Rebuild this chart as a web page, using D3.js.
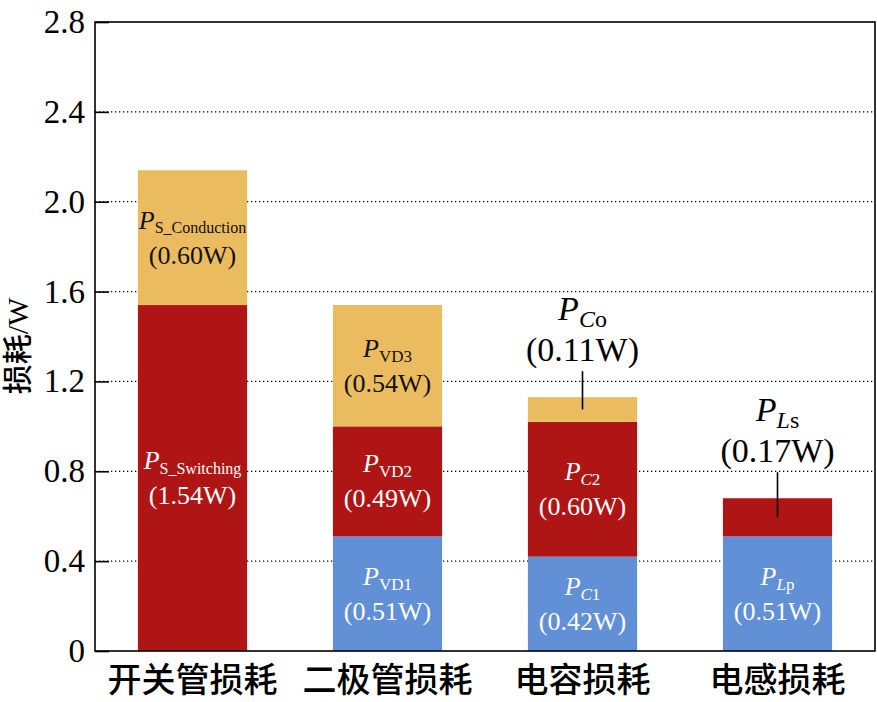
<!DOCTYPE html>
<html>
<head>
<meta charset="utf-8">
<title>损耗分布</title>
<script type="text/javascript" src="https://d3js.org/d3.v7.js"></script>
<style>
    * { margin: 0; padding: 0; }
    body { background: #fff; }
    #chart-container { width: 877px; height: 702px; }
    .serif { font-family: "Liberation Serif", "Times New Roman", "DejaVu Serif", serif; }
</style>
</head>
<body>
    <div id="chart-container"></div>

    <script type="text/javascript">
        // categories and stacked series (W)
        const categories = ["开关管损耗", "二极管损耗", "电容损耗", "电感损耗"];
        const blueLoss   = [0,    0.51, 0.42, 0.51];
        const redLoss    = [1.54, 0.49, 0.60, 0.17];
        const orangeLoss = [0.60, 0.54, 0.11, 0];

        // subscripts of P for each segment: [text, italic]
        const blueSub   = [null, [["VD1", 0]], [["C", 1], ["1", 0]], [["L", 1], ["p", 0]]];
        const redSub    = [[["S_Switching", 0]], [["VD2", 0]], [["C", 1], ["2", 0]], [["L", 1], ["s", 0]]];
        const orangeSub = [[["S_Conduction", 0]], [["VD3", 0]], [["C", 1], ["o", 0]], null];

        // segments labelled outside the bar with a leader line
        const calloutRed    = [false, false, false, true];
        const calloutOrange = [false, false, true, false];

        const yTickValues = [0, 0.4, 0.8, 1.2, 1.6, 2.0, 2.4, 2.8];
        const yLabel = "损耗/W";

        const W = 877, H = 702;
        const margin = { top: 22, right: 2, bottom: 51, left: 95 };
        const serif = "'Liberation Serif', 'Times New Roman', 'DejaVu Serif', serif";
        const cjk = "'Liberation Serif', 'Noto Sans CJK SC', serif";

        const series = [
            { key: "blue",   color: "#6190d6", text: "#ffffff", values: blueLoss,   sub: blueSub,   callout: [false, false, false, false] },
            { key: "red",    color: "#b01515", text: "#ffffff", values: redLoss,    sub: redSub,    callout: calloutRed },
            { key: "orange", color: "#ebbb5f", text: "#111111", values: orangeLoss, sub: orangeSub, callout: calloutOrange }
        ];

        const rows = categories.map((c, i) => {
            const r = { cat: c };
            series.forEach(s => r[s.key] = s.values[i]);
            return r;
        });
        const stacked = d3.stack().keys(series.map(s => s.key))(rows);

        const svg = d3.select("#chart-container").append("svg")
            .attr("width", W).attr("height", H)
            .style("background", "#fff");

        const x = d3.scaleBand()
            .domain(categories)
            .range([margin.left, W - margin.right])
            .paddingInner(0.44)
            .paddingOuter(0.22);
        const y = d3.scaleLinear()
            .domain([0, 2.8])
            .range([H - margin.bottom, margin.top]);

        // dotted grid
        svg.append("g").selectAll("line")
            .data(yTickValues.filter(v => v > 0 && v < 2.8))
            .join("line")
            .attr("x1", margin.left).attr("x2", W - margin.right)
            .attr("y1", d => y(d)).attr("y2", d => y(d))
            .attr("stroke", "#000")
            .attr("stroke-width", 1.3)
            .attr("stroke-dasharray", "1.3,2.7");

        // bars
        const layers = svg.append("g").selectAll("g")
            .data(stacked)
            .join("g")
            .attr("fill", (d, i) => series[i].color);
        layers.selectAll("rect")
            .data(d => d)
            .join("rect")
            .attr("x", d => x(d.data.cat))
            .attr("width", x.bandwidth())
            .attr("y", d => y(d[1]))
            .attr("height", d => Math.max(0, y(d[0]) - y(d[1])));

        // P label with subscript parts
        function pLabel(g, parts, px, py, big, small, color) {
            const t = g.append("text")
                .attr("x", px).attr("y", py)
                .attr("text-anchor", "middle")
                .style("font-family", serif)
                .attr("fill", color);
            t.append("tspan").attr("font-style", "italic").attr("font-size", big).text("P");
            parts.forEach((p, k) => {
                const ts = t.append("tspan")
                    .attr("font-size", small)
                    .attr("font-style", p[1] ? "italic" : "normal")
                    .text(p[0]);
                if (k === 0) ts.attr("dy", small * 0.3);
            });
        }

        const labels = svg.append("g");
        stacked.forEach((layer, si) => {
            const s = series[si];
            layer.forEach((d, i) => {
                const v = s.values[i];
                if (!v || !s.sub[i]) return;
                const cx = x(d.data.cat) + x.bandwidth() / 2;
                const top = y(d[1]);
                const mid = (y(d[0]) + y(d[1])) / 2;
                const valText = "(" + v.toFixed(2) + "W)";
                if (s.callout[i]) {
                    const base = top - 36;
                    labels.append("line")
                        .attr("x1", cx).attr("x2", cx)
                        .attr("y1", base + 10).attr("y2", mid)
                        .attr("stroke", "#000").attr("stroke-width", 1.6);
                    pLabel(labels, s.sub[i], cx, base - 41, 34, 24, "#000");
                    labels.append("text")
                        .attr("x", cx).attr("y", base)
                        .attr("text-anchor", "middle")
                        .style("font-family", serif)
                        .attr("font-size", 34)
                        .attr("fill", "#000")
                        .text(valText);
                } else {
                    const long = s.sub[i][0][0].length > 6;
                    pLabel(labels, s.sub[i], cx, mid - 9, 26, long ? 16 : 17, s.text);
                    labels.append("text")
                        .attr("x", cx).attr("y", mid + 26)
                        .attr("text-anchor", "middle")
                        .style("font-family", serif)
                        .attr("font-size", 26)
                        .attr("fill", s.text)
                        .text(valText);
                }
            });
        });

        // frame
        svg.append("rect")
            .attr("x", margin.left).attr("y", margin.top)
            .attr("width", W - margin.right - margin.left)
            .attr("height", H - margin.bottom - margin.top)
            .attr("fill", "none")
            .attr("stroke", "#000")
            .attr("stroke-width", 1.6);

        // y axis
        const yAxis = svg.append("g")
            .attr("transform", `translate(${margin.left},0)`)
            .call(d3.axisLeft(y)
                .tickValues(yTickValues)
                .tickSize(-14)
                .tickPadding(10)
                .tickFormat(d => d === 0 ? "0" : d.toFixed(1)));
        yAxis.select(".domain").remove();
        yAxis.selectAll(".tick line").attr("stroke-width", 1.6);
        yAxis.selectAll(".tick text")
            .style("font-family", serif)
            .style("font-size", "33px")
            .attr("fill", "#000");

        // category labels
        svg.append("g").selectAll("text")
            .data(categories)
            .join("text")
            .attr("x", d => x(d) + x.bandwidth() / 2)
            .attr("y", 692)
            .attr("text-anchor", "middle")
            .style("font-family", "'Noto Sans CJK SC', sans-serif")
            .style("font-weight", 500)
            .attr("font-size", 34)
            .attr("fill", "#000")
            .text(d => d);

        // y axis title
        svg.append("text")
            .attr("transform", "translate(28,346) rotate(-90)")
            .attr("text-anchor", "middle")
            .style("font-family", cjk)
            .style("font-weight", 500)
            .attr("font-size", 30)
            .attr("fill", "#000")
            .text(yLabel);
    </script>
</body>
</html>
